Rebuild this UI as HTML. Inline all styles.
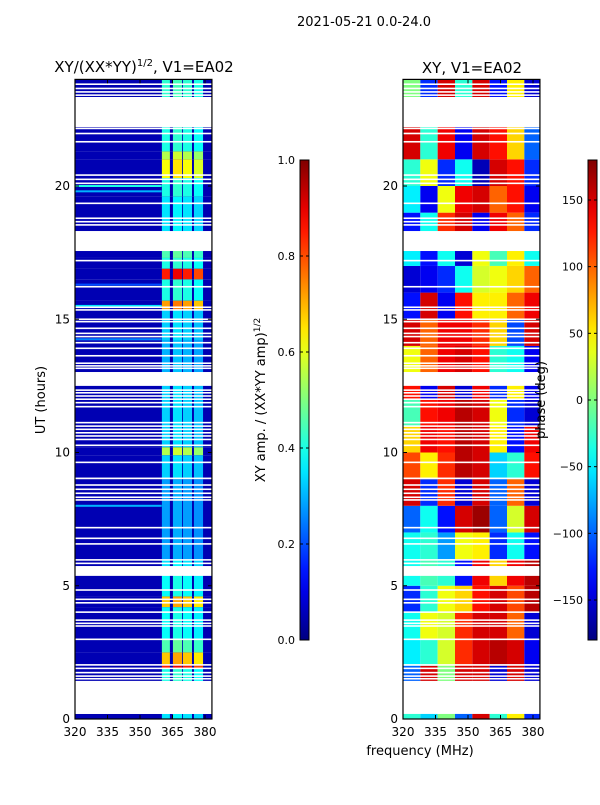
<!DOCTYPE html>
<html><head><meta charset="utf-8">
<style>
html,body{margin:0;padding:0;background:#fff;}
svg text{font-family:"DejaVu Sans","Liberation Sans",sans-serif;fill:#000;}
</style></head>
<body>
<svg id="fig" width="600" height="800" viewBox="0 0 600 800" xmlns="http://www.w3.org/2000/svg">
  <text x="364" y="26" font-size="13" text-anchor="middle">2021-05-21 0.0-24.0</text>
  <text x="144" y="72" font-size="15" text-anchor="middle">XY/(XX*YY)<tspan font-size="10" dy="-6">1/2</tspan><tspan dy="6">, V1=EA02</tspan></text>
  <text x="472" y="73" font-size="15" text-anchor="middle">XY, V1=EA02</text>
  <g id="ampPlot"></g>
  <g id="phasePlot"></g>
  <g id="axes"></g>
  <text x="45" y="400" font-size="13" text-anchor="middle" transform="rotate(-90 45 400)">UT (hours)</text>
  <text x="420" y="755" font-size="13" text-anchor="middle">frequency (MHz)</text>
  <text x="265" y="400" font-size="13" text-anchor="middle" transform="rotate(-90 265 400)">XY amp. / (XX*YY amp)<tspan font-size="9" dy="-5">1/2</tspan></text>
  <text x="545" y="400" font-size="13" text-anchor="middle" transform="rotate(-90 545 400)">phase (deg)</text>
  <g id="cbars"></g>
</svg>
<script>
// ---- data ----
const freqTicks = [320, 335, 350, 365, 380];
const timeTicks = [0, 5, 10, 15, 20];
const ampTicks = [0.0, 0.2, 0.4, 0.6, 0.8, 1.0];
const phaseTicks = [-150, -100, -50, 0, 50, 100, 150];
// sub-bands with signal (MHz)
const bandStart = [360.1, 365.2, 369.8, 374.9];
const bandEnd = [363.8, 369.4, 374.0, 379.1];
const bandFactor = [1.0, 1.05, 1.0, 0.95];
const ampBackground = 0.05;
// amplitude rows: start hour, end hour, amplitude in band
const ampRowStart = [0, 1.4, 1.9, 2.05, 2.5, 3.0, 4.2, 4.6, 5.4, 6.0, 9.0, 9.9, 10.2, 12.5, 13.0, 14.2, 15.35, 15.7, 16.5, 16.9, 17.3, 18.3, 19.6, 20.3, 21.0, 21.3, 23.3];
const ampRowEnd   = [0.19, 1.9, 2.05, 2.5, 3.0, 4.2, 4.6, 5.4, 6.0, 9.0, 9.9, 10.2, 12.5, 13.0, 14.2, 15.35, 15.7, 16.5, 16.9, 17.3, 18.3, 19.6, 20.3, 21.0, 21.3, 22.3, 24];
const ampRowVal   = [0.35, 0.4, 0.85, 0.68, 0.45, 0.38, 0.68, 0.38, 0.35, 0.28, 0.33, 0.55, 0.33, 0.35, 0.3, 0.33, 0.72, 0.4, 0.85, 0.4, 0.45, 0.35, 0.4, 0.62, 0.55, 0.4, 0.42];
// RFI lines across low band
const rfiHour = [20.0, 19.8, 15.5, 16.3, 8.0, 14.25];
const rfiVal = [0.4, 0.3, 0.35, 0.2, 0.3, 0.25];
// blank (flagged) time ranges
const gapStart = [0.19, 5.37, 12.5, 17.56, 22.21];
const gapEnd   = [1.43, 5.74, 13.02, 18.31, 23.34];
const thinGaps = [1.51,1.61,1.74,1.90,2.03,2.99,3.49,3.59,3.71,4.01,4.36,4.49,4.84,5.84,5.97,6.57,6.78,7.18,8.22,8.32,8.47,8.62,8.78,9.03,9.63,10.27,10.49,10.62,10.74,10.87,10.99,11.12,11.72,11.87,12.0,12.12,12.24,12.34,13.16,13.25,13.35,13.63,13.91,14.12,14.35,14.47,14.66,14.91,15.0,15.35,15.45,16.22,17.2,18.54,18.66,18.79,19.35,20.10,20.25,20.41,21.66,21.97,22.16,23.41,23.53,23.66,23.82];
// phase grid: hourly rows (0..23) x 8 freq columns (320..384 step 8 MHz), degrees
const phaseColStart = [320, 328, 336, 344, 352, 360, 368, 376];
const phaseRows = [
  [-30,-60,0,-100,150,-30,50,-120],
  [-100,150,0,150,150,-150,150,-150],
  [-50,-30,30,120,150,160,150,-140],
  [-40,40,30,120,150,150,100,-150],
  [-120,-30,40,60,130,150,110,160],
  [-40,-20,-30,-130,140,60,140,160],
  [-40,-30,-80,40,50,-120,-40,-130],
  [-100,-40,-130,150,170,-100,30,150],
  [150,-120,120,-150,150,-100,100,-150],
  [110,50,120,160,150,-60,-30,130],
  [60,140,130,160,150,50,-130,140],
  [-20,130,140,160,150,40,-120,-150],
  [130,-140,150,-150,140,-120,50,-140],
  [40,100,140,150,130,-30,-40,-140],
  [150,100,140,140,120,60,-110,150],
  [-130,150,-140,130,50,50,100,140],
  [-150,-140,-120,-40,30,40,60,100],
  [-50,-130,-40,-150,40,-20,50,-40],
  [-130,-40,120,150,-140,140,100,-120],
  [-50,-140,40,140,150,100,130,-140],
  [-30,40,-120,-40,-160,150,130,-120],
  [150,-30,140,-140,150,130,60,-100],
  [150,-30,140,-140,150,130,60,-100],
  [0,-120,150,-30,150,-130,50,-150]
];
const phaseFreqMax = 384;

// ---- scales ----
const ampX = f => 75 + (f - 320) * (130 / 60);
const phX = f => 403 + (f - 320) * (130 / 60);
const yT = h => 719 - h * (533 / 20);
const XMAX = 383.2;
const NS = "http://www.w3.org/2000/svg";
function jet(v){
  v = Math.max(0, Math.min(1, v));
  const r = Math.max(0, Math.min(1, 1.5 - Math.abs(4*v - 3)));
  const g = Math.max(0, Math.min(1, 1.5 - Math.abs(4*v - 2)));
  const b = Math.max(0, Math.min(1, 1.5 - Math.abs(4*v - 1)));
  return `rgb(${Math.round(r*255)},${Math.round(g*255)},${Math.round(b*255)})`;
}
function mk(tag, attrs, parent){
  const e = document.createElementNS(NS, tag);
  for (const k in attrs) e.setAttribute(k, attrs[k]);
  parent.appendChild(e); return e;
}
const ampG = document.getElementById('ampPlot');
const phG = document.getElementById('phasePlot');

// amplitude panel
for (let i = 0; i < ampRowStart.length; i++){
  const y0 = yT(ampRowEnd[i]), y1 = yT(ampRowStart[i]);
  let r = mk('rect', {x: ampX(320), y: y0, width: ampX(XMAX)-ampX(320), height: y1-y0, fill: jet(ampBackground)}, ampG);
  
  
  for (let k = 0; k < bandStart.length; k++){
    const c = mk('rect', {x: ampX(bandStart[k]), y: y0, width: ampX(bandEnd[k])-ampX(bandStart[k]), height: y1-y0, fill: jet(ampRowVal[i]*bandFactor[k])}, ampG);
    
    
  }
}
for (let i = 0; i < rfiHour.length; i++){
  const l = mk('rect', {x: ampX(320), y: yT(rfiHour[i]) - 1, width: ampX(360)-ampX(320), height: 2, fill: jet(rfiVal[i])}, ampG);
  
  
}
// phase panel
for (let h = 0; h < phaseRows.length; h++){
  for (let c = 0; c < phaseColStart.length; c++){
    const f0 = phaseColStart[c];
    const f1 = Math.min(c+1 < phaseColStart.length ? phaseColStart[c+1] : phaseFreqMax, XMAX);
    const cell = mk('rect', {x: phX(f0), y: yT(h+1), width: phX(f1)-phX(f0), height: yT(h)-yT(h+1), fill: jet((phaseRows[h][c] + 180) / 360)}, phG);
    
    
  }
}
// flagged gaps on both panels
[[ampG, ampX], [phG, phX]].forEach(([g, sx]) => {
  for (let i = 0; i < gapStart.length; i++){
    const gp = mk('rect', {x: sx(320), y: yT(gapEnd[i]), width: sx(XMAX)-sx(320), height: yT(gapStart[i])-yT(gapEnd[i]), fill: '#fff'}, g);
    
    
  }
  for (let i = 0; i < thinGaps.length; i++){
    const t = mk('rect', {x: sx(320), y: yT(thinGaps[i]) - 0.8, width: sx(XMAX)-sx(320), height: 1.6, fill: '#fff'}, g);
    
    
  }
});
// axes
const axG = document.getElementById('axes');
[[ampX, 'amp'], [phX, 'phase']].forEach(([sx, nm]) => {
  const left = sx(320), right = sx(XMAX);
  const fr = mk('rect', {x: left, y: yT(24), width: right-left, height: yT(0)-yT(24), fill: 'none', stroke: '#000', 'stroke-width': 1.2}, axG);
  
  
  freqTicks.forEach(f => {
    mk('line', {x1: sx(f), x2: sx(f), y1: yT(0), y2: yT(0)-4, stroke: '#000'}, axG);
    mk('line', {x1: sx(f), x2: sx(f), y1: yT(24), y2: yT(24)+4, stroke: '#000'}, axG);
    const t = mk('text', {x: sx(f), y: 736, 'font-size': 12, 'text-anchor': 'middle'}, axG);
    t.textContent = f;
    
    
  });
  timeTicks.forEach(h => {
    mk('line', {x1: left, x2: left+4, y1: yT(h), y2: yT(h), stroke: '#000'}, axG);
    mk('line', {x1: right, x2: right-4, y1: yT(h), y2: yT(h), stroke: '#000'}, axG);
    const t = mk('text', {x: left-5, y: yT(h)+4, 'font-size': 12, 'text-anchor': 'end'}, axG);
    t.textContent = h;
    
    
  });
});
// colorbars
const cbG = document.getElementById('cbars');
const defs = mk('defs', {}, cbG);
const grad = mk('linearGradient', {id: 'jetg', x1: 0, y1: 1, x2: 0, y2: 0}, defs);
for (let i = 0; i <= 20; i++) mk('stop', {offset: i/20, 'stop-color': jet(i/20)}, grad);
function colorbar(x, ticks, vmin, vmax, nm){
  const y0 = 160, y1 = 640;
  const r = mk('rect', {x: x, y: y0, width: 9, height: y1-y0, fill: 'url(#jetg)', stroke: '#000', 'stroke-width': 1}, cbG);
  
  
  ticks.forEach(v => {
    const y = y1 - (v - vmin) / (vmax - vmin) * (y1 - y0);
    mk('line', {x1: x, x2: x+3, y1: y, y2: y, stroke: '#000'}, cbG);
    mk('line', {x1: x+9, x2: x+6, y1: y, y2: y, stroke: '#000'}, cbG);
    const t = mk('text', {x: x-5, y: y+4, 'font-size': 11, 'text-anchor': 'end'}, cbG);
    t.textContent = nm === 'amp-colorbar' ? v.toFixed(1) : (v < 0 ? '\u2212' + (-v) : v);
    
    
  });
}
colorbar(300, ampTicks, 0, 1, 'amp-colorbar');
colorbar(588, phaseTicks, -180, 180, 'phase-colorbar');
</script>
</body></html>
